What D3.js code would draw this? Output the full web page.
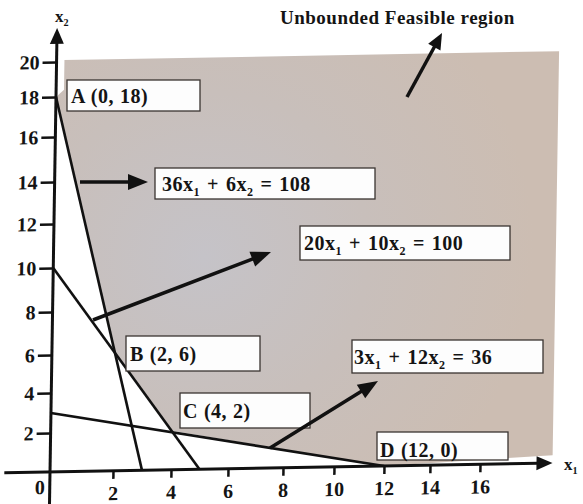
<!DOCTYPE html>
<html>
<head>
<meta charset="utf-8">
<style>
  body { margin: 0; background: #fff; }
  svg text { font-family: "Liberation Serif", "DejaVu Serif", serif; font-weight: bold; fill: #141414; }
</style>
<script src="https://d3js.org/d3.v7.min.js"></script>
</head>
<body>
<svg width="583" height="504"></svg>
<script>
// ---- data ----
var xTicks = [0, 2, 4, 6, 8, 10, 12, 14, 16];
var yTicks = [0, 2, 4, 6, 8, 10, 12, 14, 16, 18, 20];
// constraints: a*x1 + b*x2 = c
var constraints = [
  {a: 36, b: 6, c: 108},
  {a: 20, b: 10, c: 100},
  {a: 3, b: 12, c: 36}
];
var corners = [
  {name: "A", x1: 0, x2: 18},
  {name: "B", x1: 2, x2: 6},
  {name: "C", x1: 4, x2: 2},
  {name: "D", x1: 12, x2: 0}
];
var regionTitle = "Unbounded Feasible region";
var xLimit = 18.9, yLimit = 20.1;      // edge of the shaded area
var xAxisEnd = [-1.45, 18.9], yAxisEnd = [-1.7, 21.95];

// ---- layout ----
var svg = d3.select("svg");
// the scanned figure is a bit sheared; pixel positions of the ticks
var xPix = [50, 113, 171, 228, 283, 334, 384, 430, 480];
var yPix = [472, 433, 393, 355, 312, 268, 224, 182, 137, 97, 62];
var x = d3.scaleLinear().domain(xTicks).range(xPix);
var y = d3.scaleLinear().domain(yTicks).range(yPix);

var sa = 0.016, sb = 0.018, ox = 50, oy = 472;
var plot = svg.append("g")
  .attr("transform", "matrix(1," + (-sb) + "," + (-sa) + ",1," + (sa * oy) + "," + (sb * ox) + ")");

var defs = svg.append("defs");
var grad = defs.append("radialGradient").attr("id", "shade")
  .attr("gradientUnits", "userSpaceOnUse")
  .attr("cx", 200).attr("cy", 260).attr("r", 330);
grad.append("stop").attr("offset", "0").attr("stop-color", "#c5c3c8");
grad.append("stop").attr("offset", "0.5").attr("stop-color", "#c8bfbb");
grad.append("stop").attr("offset", "1").attr("stop-color", "#ccbdb2");

// feasible region
var region = [[0.25, yLimit], [xLimit, yLimit], [xLimit, 0.4]];
corners.slice().reverse().forEach(function(d) { region.push([d.x1, d.x2]); });
region.push([0.25, 18.4]);
plot.append("path")
  .attr("d", d3.line().x(function(d) { return x(d[0]); }).y(function(d) { return y(d[1]); })(region) + "Z")
  .attr("fill", "url(#shade)");

// constraint lines
plot.selectAll(".cons").data(constraints).enter().append("line")
  .attr("x1", x(0)).attr("y1", function(d) { return y(d.c / d.b); })
  .attr("x2", function(d) { return x(d.c / d.a); }).attr("y2", y(0))
  .attr("stroke", "#111").attr("stroke-width", 2.6);

function arrow(g, x1, y1, x2, y2, w, hl, hw) {
  var ang = Math.atan2(y2 - y1, x2 - x1), c = Math.cos(ang), s = Math.sin(ang);
  var bx = x2 - hl * c, by = y2 - hl * s;
  g.append("line").attr("x1", x1).attr("y1", y1).attr("x2", bx + 2 * c).attr("y2", by + 2 * s)
    .attr("stroke", "#111").attr("stroke-width", w);
  g.append("path")
    .attr("d", "M" + x2 + "," + y2 + "L" + (bx - hw * s) + "," + (by + hw * c) + "L" + (bx + hw * s) + "," + (by - hw * c) + "Z")
    .attr("fill", "#111");
}

// axes
arrow(plot, x(xAxisEnd[0]), y(0), x(xAxisEnd[1]), y(0), 3, 16, 7);
arrow(plot, x(0), y(yAxisEnd[0]), x(0), y(yAxisEnd[1]), 3, 16, 7);

var gx = plot.append("g").attr("transform", "translate(0," + y(0) + ")")
  .call(d3.axisBottom(x).tickValues(xTicks.slice(1)).tickSize(8).tickPadding(7).tickFormat(d3.format("d")));
var gy = plot.append("g").attr("transform", "translate(" + x(0) + ",0)")
  .call(d3.axisLeft(y).tickValues(yTicks.slice(1)).tickSize(14).tickPadding(3).tickFormat(d3.format("d")));
[gx, gy].forEach(function(g) {
  g.attr("font-family", null).attr("font-size", null);
  g.select(".domain").remove();
  g.selectAll(".tick line").attr("stroke", "#111").attr("stroke-width", 2.5);
  g.selectAll(".tick text").attr("fill", "#141414").style("font-size", "20px");
});
plot.append("text").attr("x", x(0) - 10).attr("y", y(0) + 22).attr("text-anchor", "middle")
  .style("font-size", "20px").text("0");

// text with numeric subscripts written as _1, _2
function subText(g, px, py, str, size) {
  var t = g.append("text").attr("x", px).attr("y", py).style("font-size", size + "px");
  var shift = 0;
  str.split(/_(\d)/).forEach(function(part, i) {
    if (!part.length) return;
    if (i % 2) {
      t.append("tspan").attr("dy", size * 0.25).style("font-size", (size * 0.6) + "px").text(part);
      shift = -size * 0.25;
    } else {
      t.append("tspan").attr("dy", shift).text(part);
      shift = 0;
    }
  });
  return t;
}
subText(svg, 55, 22, "x_2", 17);
subText(svg, 564, 470, "x_1", 17);

// ---- annotation boxes ----
var ann = svg.append("g");
function box(bx, by, bw, bh, str, tx, ty, ws) {
  ann.append("rect").attr("x", bx).attr("y", by).attr("width", bw).attr("height", bh)
    .attr("fill", "#fdfdfd").attr("stroke", "#3a3431").attr("stroke-width", 1.3);
  subText(ann, tx, ty, str, 20).style("letter-spacing", "0.5px").style("word-spacing", ws + "px");
}
var consLabels = constraints.map(function(d) { return d.a + "x_1 + " + d.b + "x_2 = " + d.c; });
var cornerLabels = corners.map(function(d) { return d.name + " (" + d.x1 + ", " + d.x2 + ")"; });

box(67, 80, 133, 31, cornerLabels[0], 71, 103, 0.5);
box(155, 168, 220, 31, consLabels[0], 162, 191, 1.5);
box(300, 226, 210, 34, consLabels[1], 304, 250, 1.5);
box(126, 336, 134, 35, cornerLabels[1], 130, 361, 0.5);
box(180, 393, 130, 35, cornerLabels[2], 183, 418, 0.5);
box(352, 340, 191, 33, consLabels[2], 354, 364, 1.5);
box(377, 432, 131, 28, cornerLabels[3], 380, 457, 0.5);

ann.append("text").attr("x", 280).attr("y", 24).style("font-size", "19px")
  .style("letter-spacing", "0.5px").text(regionTitle);

arrow(ann, 80, 182, 148, 182, 3.5, 20, 8);
arrow(ann, 93, 320, 271, 252, 3.5, 20, 8);
arrow(ann, 270, 448, 378, 381, 3.5, 20, 8);
arrow(ann, 407, 97, 442, 33, 3.5, 16, 7);
</script>
</body>
</html>
